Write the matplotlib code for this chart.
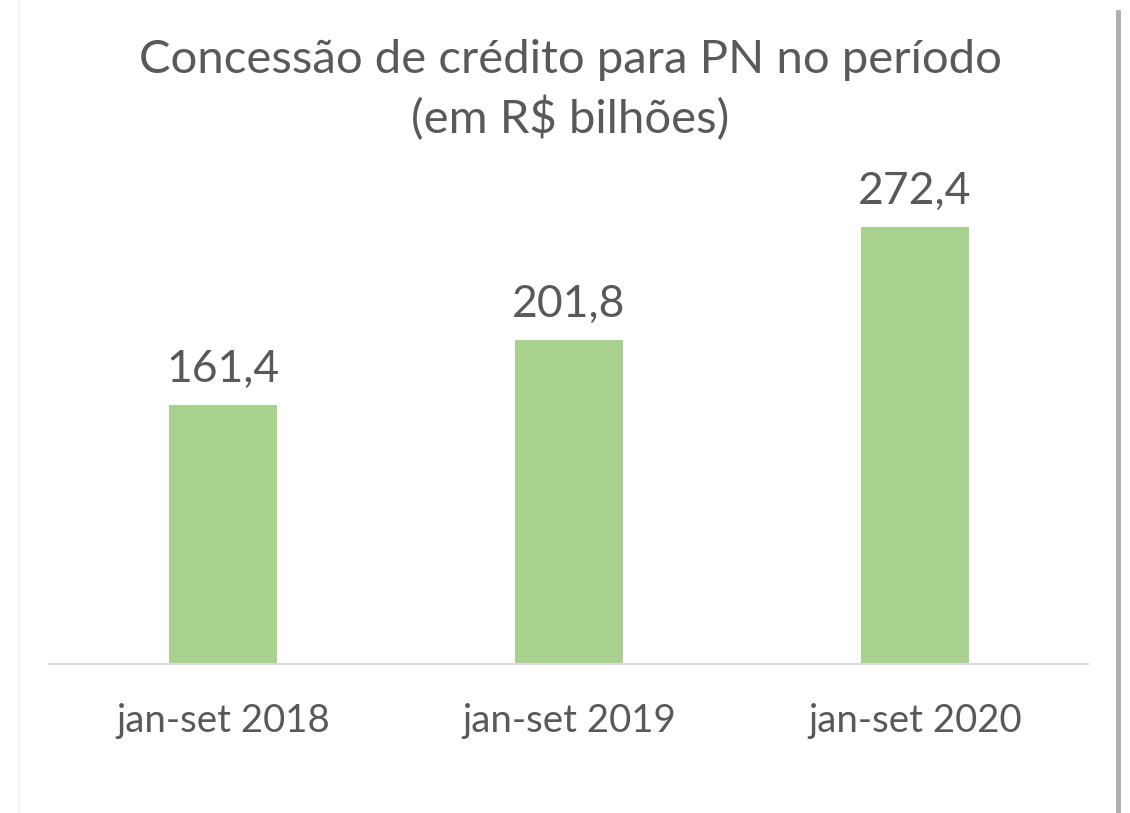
import matplotlib
matplotlib.use("Agg")
import matplotlib.pyplot as plt
from matplotlib.lines import Line2D

# --- data -----------------------------------------------------------
periods = ["jan-set 2018", "jan-set 2019", "jan-set 2020"]
valores = [161.4, 201.8, 272.4]
rotulos = ["161,4", "201,8", "272,4"]

plt.rcParams['font.family'] = ['Lato', 'DejaVu Sans']
cor_texto = "#595959"

fig = plt.figure(figsize=(11.3, 8.13), dpi=100)
ax = fig.add_axes([50/1130, 149/813, 1038/1130, (664-182.5)/813])

x = list(range(len(periods)))
bars = ax.bar(x, valores, width=0.315, color="#A9D18E")

for b, txt in zip(bars, rotulos):
    ax.annotate(txt, (b.get_x() + b.get_width()/2, b.get_height()),
                xytext=(0, 11), textcoords="offset points",
                ha="center", va="bottom", fontsize=32, color=cor_texto)

ax.set_xlim(-0.5, 2.5)
ax.set_ylim(0, 300)
ax.set_xticks(x)
ax.set_xticklabels(periods, fontsize=27.6, color=cor_texto)
ax.tick_params(axis="x", length=0, pad=28)
ax.set_yticks([])
for s in ["top", "right", "left"]:
    ax.spines[s].set_visible(False)
ax.spines["bottom"].set_color("#D9D9D9")
ax.spines["bottom"].set_linewidth(1.5)

fig.text(570/1130, 1 - 90/813, "Concessão de crédito para PN no período\n(em R$ bilhões)",
         ha="center", va="center", fontsize=34, color=cor_texto, linespacing=1.38)

# frame edges of the original screenshot
fig.add_artist(Line2D([1118/1130, 1118/1130], [0, 1 - 12/813], transform=fig.transFigure,
                      color="#B0B0B0", lw=3.5))
fig.add_artist(Line2D([19/1130, 19/1130], [0, 1], transform=fig.transFigure,
                      color="#F2F2F2", lw=1))

fig.savefig("out.png", dpi=100)
